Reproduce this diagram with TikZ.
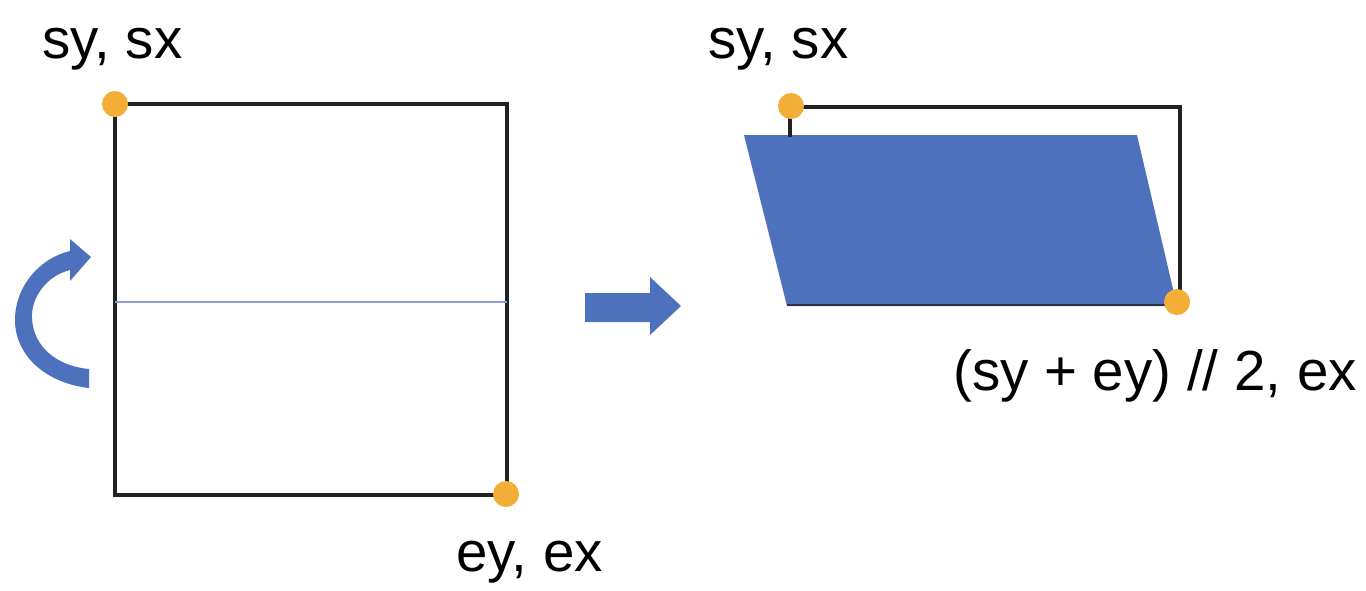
\documentclass[tikz,border=0pt]{standalone}
\usepackage{fontspec}
\setmainfont{Liberation Sans}
\definecolor{dotorange}{HTML}{F2AE36}
\definecolor{shapeblue}{HTML}{4E71BE}
\definecolor{midline}{HTML}{8A9ADA}
\definecolor{edgeblack}{HTML}{222222}
\begin{document}
\begin{tikzpicture}[x=1pt,y=-1pt,
  lbl/.style={anchor=base west,inner sep=0pt,font=\fontsize{56.5}{62}\selectfont},
  cornerdot/.style={circle,fill=dotorange,inner sep=0pt,minimum size=26pt},
  frame/.style={draw=edgeblack,line width=3.6pt},
  bluefill/.style={fill=shapeblue,draw=none}]
\useasboundingbox (0,0) rectangle (1366,590);
% ---- left square ----
\coordinate (lTL) at (115,104);
\coordinate (lBR) at (507,495);
\draw[frame] (lTL) rectangle (lBR);
\coordinate (mL) at (115,302);
\coordinate (mR) at (507,302);
\draw[midline,line width=1.8pt] (mL) -- (mR);
\node[cornerdot] (ldot1) at (lTL) {};
\node[cornerdot] (ldot2) at (506,494) {};
\node[lbl] (lsy) at (42,58) {sy, sx};
\node[lbl] (ley) at (456,571) {ey, ex};
% ---- curved arrow ----
\fill[shapeblue] (89,388) .. controls (45,383) and (15,355) .. (15,320)
  .. controls (15,286) and (40,258) .. (70,251)
  -- (70,239) -- (91,257) -- (70,281) -- (70,270)
  .. controls (46,276) and (31,298) .. (32,318)
  .. controls (33,346) and (56,366) .. (89,369) -- cycle;
% ---- right arrow ----
\fill[shapeblue] (585,293) -- (650,293) -- (650,277) -- (681,306)
  -- (650,335) -- (650,322) -- (585,322) -- cycle;
% ---- right figure ----
\coordinate (rTL) at (790,107);
\coordinate (rTR) at (1180,107);
\coordinate (rBR) at (1180,305);
\coordinate (rBL) at (787,305);
\fill[bluefill] (744,135) -- (1137,135) -- (1177,306) -- (787,306) -- cycle;
\draw[frame,line cap=rect] (790,135) -- (rTL) -- (rTR) -- (rBR);
\draw[edgeblack!80!shapeblue,line width=2.4pt] (rBL) -- (rBR);
\node[cornerdot] (rdot1) at (791,106) {};
\node[cornerdot] (rdot2) at (1177,302) {};
\node[lbl] (rsy) at (708,58) {sy, sx};
\node[lbl] (rmid) at (953,390) {(sy + ey) // 2, ex};
\end{tikzpicture}
\end{document}
